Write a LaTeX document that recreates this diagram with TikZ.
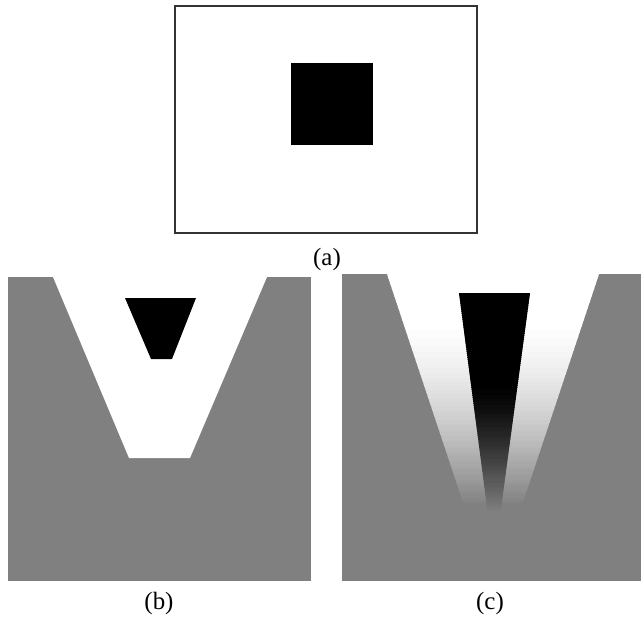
\documentclass[tikz,border=0pt]{standalone}
\usepackage{fontspec}
\setmainfont{Liberation Serif}
\begin{document}
\begin{tikzpicture}[x=1bp,y=-1bp,
  caption/.style={font=\fontsize{25}{30}\selectfont, inner sep=0pt, anchor=center},
  panelbg/.style={fill=black!50},
  frameline/.style={draw=black!80, line width=1.1bp}]
\useasboundingbox[fill=white] (0,0) rectangle (642,622);
% ---------- (a) ----------
\draw[frameline] (175,6) rectangle (477,233);
\fill[black] (291,63) rectangle (373,145);
\node[caption] (la) at (327,260) {(a)};
% ---------- (b) ----------
\fill[panelbg] (8,277) rectangle (311,581);
\fill[white] (53,277) -- (267,277) -- (190,458) -- (129,458) -- cycle;
\fill[black] (125,298) -- (196,298) -- (172,359) -- (151,359) -- cycle;
\node[caption] (lb) at (159,604) {(b)};
% ---------- (c) ----------
\fill[panelbg] (342,274) rectangle (641,581);
\begin{scope}
  \clip (387,274) -- (599,274) -- (522.7,503) -- (463.3,503) -- cycle;
  \foreach \yy in {274,276,...,502} {
    \pgfmathsetmacro{\s}{max(0,min(1,(\yy-320)/185))}
    \pgfmathtruncatemacro{\p}{round(50*\s^1.5)}
    \fill[black!\p!white] (342,\yy) rectangle (641,\yy+2.6);
  }
\end{scope}
\begin{scope}
  \clip (459,293) -- (530,293) -- (494,560) -- cycle;
  \foreach \yy in {293,295,...,520} {
    \pgfmathsetmacro{\s}{max(0,min(1,(\yy-385)/125))}
    \pgfmathtruncatemacro{\p}{round(100-50*\s^1.3)}
    \fill[black!\p!white] (342,\yy) rectangle (641,\yy+2.6);
  }
\end{scope}
\node[caption] (lc) at (490,604) {(c)};
\end{tikzpicture}
\end{document}
